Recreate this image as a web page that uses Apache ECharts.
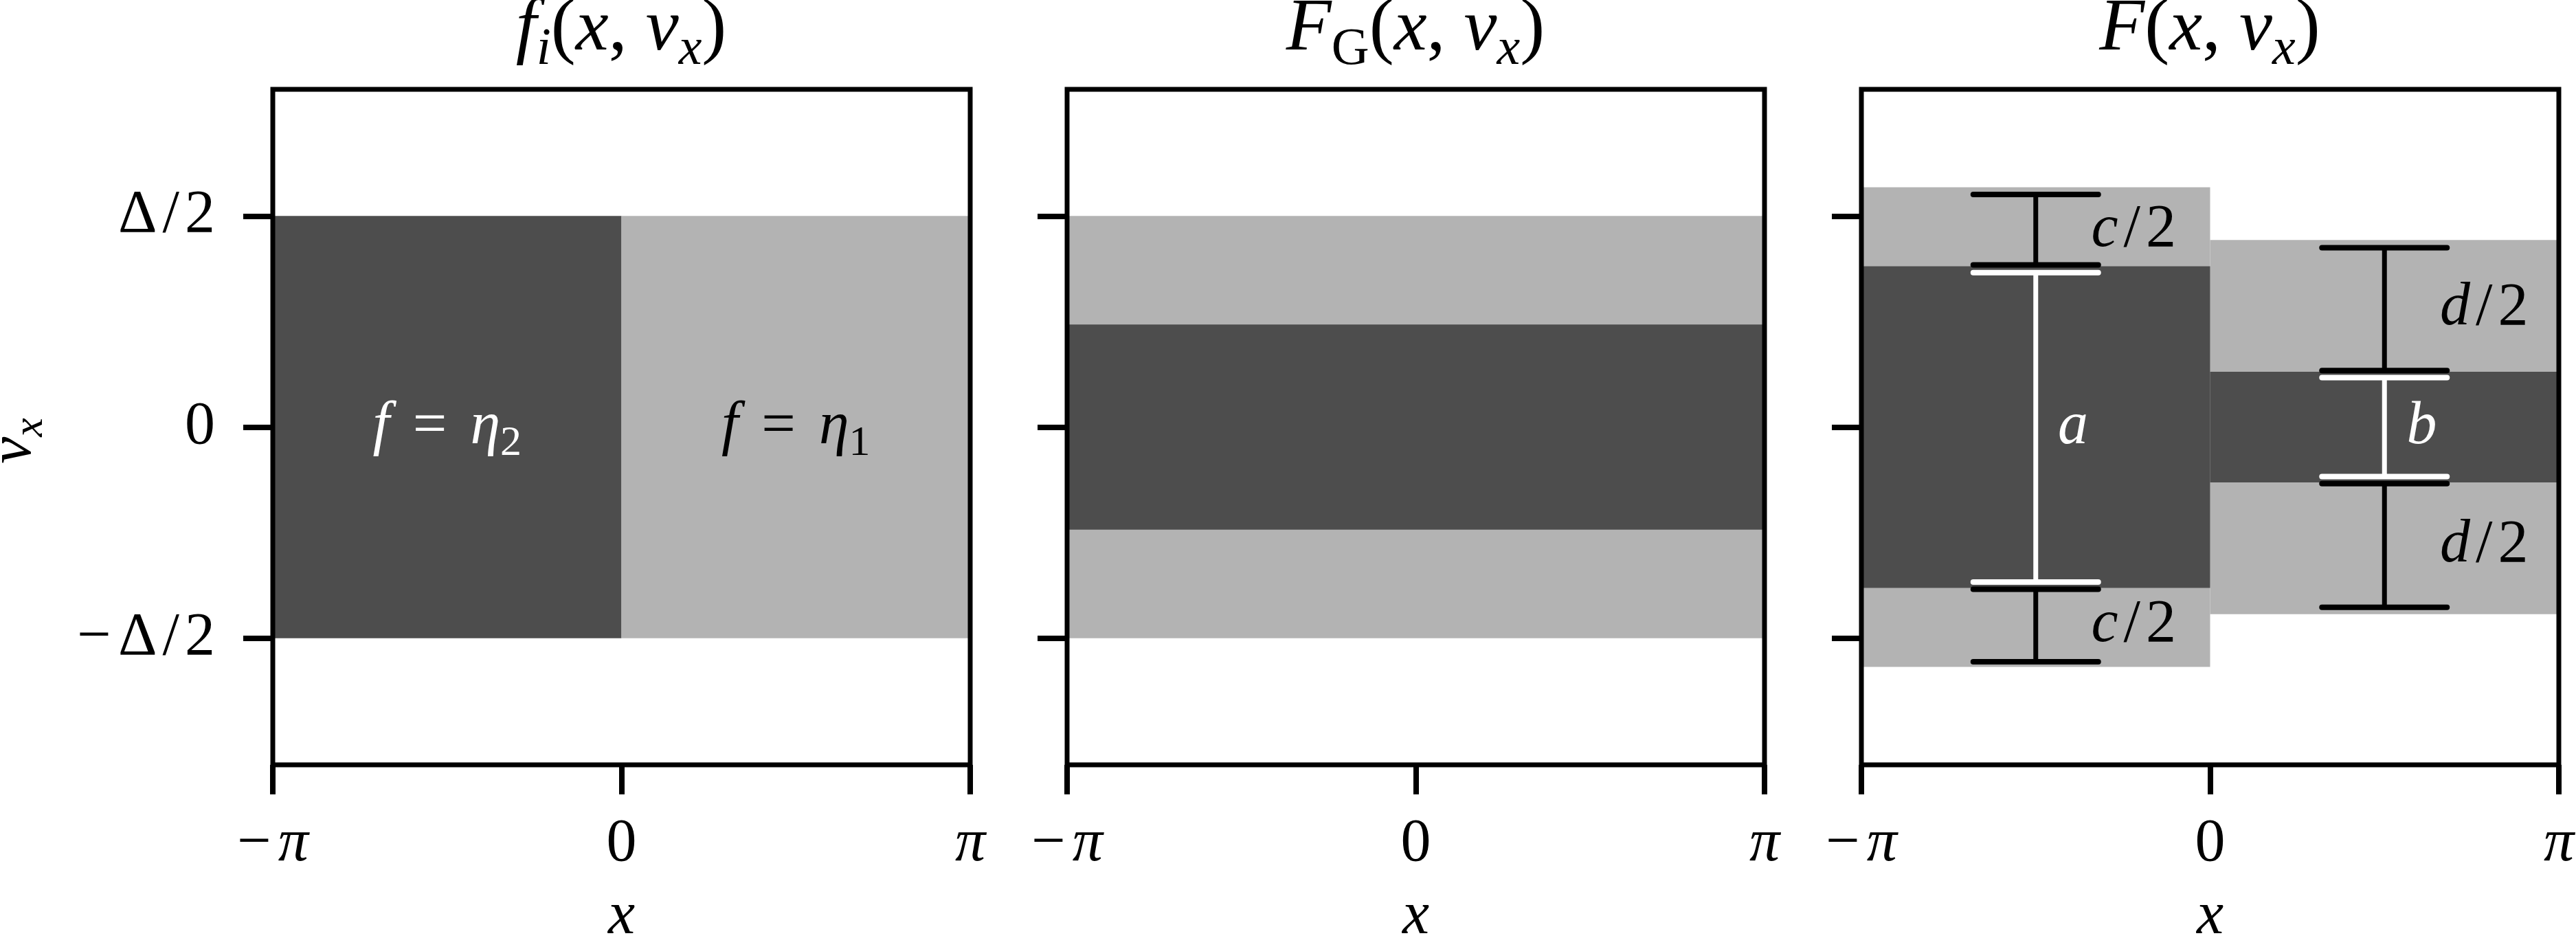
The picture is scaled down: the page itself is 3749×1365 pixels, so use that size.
<!DOCTYPE html>
<html>
<head>
<meta charset="utf-8">
<script src="https://cdn.jsdelivr.net/npm/echarts@6/dist/echarts.min.js"></script>
<style>html,body{margin:0;padding:0;background:#fff}#c{width:3749px;height:1365px}</style>
</head>
<body>
<div id="c"></div>
<script>
const PI = Math.PI;

// ---- axes ----
const xRange = [-PI, PI];
const vRange = [-0.8, 0.8];
const xTickValues = [-PI, 0, PI];
const xTickLabels = ['−π', '0', 'π'];
const vTickValues = [-0.5, 0, 0.5];
const vTickLabels = ['−Δ/2', '0', 'Δ/2'];
const panelTitles = ['f_i(x, v_x)', 'F_G(x, v_x)', 'F(x, v_x)'];
const xName = 'x';
const vName = 'v_x';

// ---- bands: [x0, x1, v0, v1] ----
const p1Dark  = [[-PI, 0, -0.5, 0.5]];
const p1Light = [[0, PI, -0.5, 0.5]];
const p2Light = [[-PI, PI, -0.5, 0.5]];
const p2Dark  = [[-PI, PI, -0.243, 0.243]];
const p3Light = [[-PI, 0, -0.568, 0.568], [0, PI, -0.443, 0.443]];
const p3Dark  = [[-PI, 0, -0.381, 0.381], [0, PI, -0.131, 0.131]];

// ---- error bars: [x, vLow, vHigh] ----
const p3BlackBars = [[-PI/2, 0.384, 0.551], [-PI/2, -0.556, -0.384], [PI/2, 0.134, 0.425], [PI/2, -0.427, -0.134]];
const p3WhiteBars = [[-PI/2, -0.367, 0.366], [PI/2, -0.117, 0.117]];

// ---- text labels: [x, v, text] ----
const p1WhiteLabels = [[-PI/2, 0, 'f = η_2']];
const p1BlackLabels = [[PI/2, 0, 'f = η_1']];
const p3WhiteLabels = [[-1.371, 0, 'a'], [1.771, 0, 'b']];
const p3BlackLabels = [[-1.071, 0.467, 'c/2'], [-1.071, -0.470, 'c/2'], [2.071, 0.281, 'd/2'], [2.071, -0.281, 'd/2']];

// ---- styling ----
const FF = 'Liberation Serif';
const DARK = '#4d4d4d', LIGHT = '#b3b3b3';
const TICK_FS = 88, TITLE_FS = 108;
const CAP = 91;

function rich(size, color) {
  const s = Math.round(size * 0.7), p = Math.round(size * 0.55);
  const base = {fontFamily: FF, color: color, fill: color, lineHeight: size, fontWeight: 'normal'};
  const k = size / 88;
  return {
    it: Object.assign({}, base, {fontSize: size, fontStyle: 'italic'}),
    rm: Object.assign({}, base, {fontSize: size, fontStyle: 'normal'}),
    op: Object.assign({}, base, {fontSize: size, fontStyle: 'normal', padding: [0, Math.round(12 * k), 0, Math.round(12 * k)]}),
    sl: Object.assign({}, base, {fontSize: size, fontStyle: 'normal', padding: [0, Math.round(8 * k), 0, Math.round(8 * k)]}),
    mi: Object.assign({}, base, {fontSize: size, fontStyle: 'normal', padding: [0, Math.round(10 * k), 0, 0]}),
    subit: Object.assign({}, base, {fontSize: s, fontStyle: 'italic', padding: [p, 0, 0, 0]}),
    subrm: Object.assign({}, base, {fontSize: s, fontStyle: 'normal', padding: [p, 0, 0, 0]})
  };
}
function toRich(str) {
  let out = '';
  for (let i = 0; i < str.length; i++) {
    let c = str[i], sub = false;
    if (c === '_') { sub = true; c = str[++i]; }
    let st;
    if (sub) st = (/[a-zα-ω]/.test(c) ? 'subit' : 'subrm');
    else if (c === '=') st = 'op';
    else if (c === '/') st = 'sl';
    else if (c === '−') st = 'mi';
    else st = /[a-zA-Zα-ω]/.test(c) ? 'it' : 'rm';
    out += '{' + st + '|' + c + '}';
  }
  return out;
}
function pick(vals, labels, v) {
  for (let i = 0; i < vals.length; i++) if (Math.abs(vals[i] - v) < 1e-6) return toRich(labels[i]);
  return '';
}

const grids = [397, 1553, 2709].map(l => ({
  left: l, top: 130, width: 1015, height: 983,
  show: true, z: 10, borderColor: '#000', borderWidth: 7, backgroundColor: 'transparent',
  outerBoundsMode: 'none', containLabel: false
}));

const xAxes = [0, 1, 2].map(i => ({
  gridIndex: i, type: 'value', min: xRange[0], max: xRange[1], position: 'bottom',
  axisLine: {show: false, onZero: false}, splitLine: {show: false},
  axisTick: {show: true, inside: false, length: 43, customValues: xTickValues, lineStyle: {color: '#000', width: 8}},
  axisLabel: {show: true, margin: 72, customValues: xTickValues, hideOverlap: false,
    formatter: v => pick(xTickValues, xTickLabels, v), rich: rich(TICK_FS, '#000')},
  name: toRich(xName), nameLocation: 'middle', nameGap: 178, nameMoveOverlap: false,
  nameTextStyle: {rich: rich(TICK_FS, '#000')}
}));

const yAxes = [0, 1, 2].map(i => ({
  gridIndex: i, type: 'value', min: vRange[0], max: vRange[1], position: 'left',
  axisLine: {show: false, onZero: false}, splitLine: {show: false},
  axisTick: {show: true, inside: false, length: 43, customValues: vTickValues, lineStyle: {color: '#000', width: 8}},
  axisLabel: {show: i === 0, margin: 84, customValues: vTickValues, hideOverlap: false,
    formatter: v => pick(vTickValues, vTickLabels, v), rich: rich(TICK_FS, '#000')},
  name: i === 0 ? toRich(vName) : '', nameLocation: 'middle', nameGap: 332, nameRotate: 90, nameMoveOverlap: false,
  nameTextStyle: {padding: [0, 40, 0, 0], rich: rich(TICK_FS, '#000')}
}));

const titles = panelTitles.map((t, i) => ({
  text: toRich(t), left: 397 + 1156 * i + 507, top: -10, textAlign: 'center', padding: 0,
  textStyle: {fontWeight: 'normal', rich: rich(TITLE_FS, '#000')}
}));

function rectSeries(idx, data, fill) {
  return {
    type: 'custom', xAxisIndex: idx, yAxisIndex: idx, silent: true, clip: false, z: 1,
    data: data,
    renderItem: function (params, api) {
      const a = api.coord([api.value(0), api.value(3)]);
      const b = api.coord([api.value(1), api.value(2)]);
      return {type: 'rect', shape: {x: a[0], y: a[1], width: b[0] - a[0], height: b[1] - a[1]}, style: {fill: fill}};
    }
  };
}
function barSeries(idx, data, color) {
  return {
    type: 'custom', xAxisIndex: idx, yAxisIndex: idx, silent: true, clip: false, z: 3,
    data: data,
    renderItem: function (params, api) {
      const lo = api.coord([api.value(0), api.value(1)]);
      const hi = api.coord([api.value(0), api.value(2)]);
      const x = lo[0];
      return {type: 'group', children: [
        {type: 'line', shape: {x1: x, y1: lo[1], x2: x, y2: hi[1]}, style: {stroke: color, lineWidth: 7}},
        {type: 'line', shape: {x1: x - CAP, y1: lo[1], x2: x + CAP, y2: lo[1]}, style: {stroke: color, lineWidth: 8, lineCap: 'round'}},
        {type: 'line', shape: {x1: x - CAP, y1: hi[1], x2: x + CAP, y2: hi[1]}, style: {stroke: color, lineWidth: 8, lineCap: 'round'}}
      ]};
    }
  };
}
function textSeries(idx, data, color, align) {
  return {
    type: 'custom', xAxisIndex: idx, yAxisIndex: idx, silent: true, clip: false, z: 5,
    data: data.map(d => [d[0], d[1]]),
    renderItem: function (params, api) {
      const p = api.coord([api.value(0), api.value(1)]);
      return {type: 'text', x: p[0], y: p[1], style: {
        text: toRich(data[params.dataIndex][2]), align: align, verticalAlign: 'middle',
        fill: color, fontFamily: FF, fontSize: TICK_FS, rich: rich(TICK_FS, color)
      }};
    }
  };
}

const option = {
  animation: false,
  backgroundColor: '#fff',
  title: titles,
  grid: grids,
  xAxis: xAxes,
  yAxis: yAxes,
  series: [
    rectSeries(0, p1Dark, DARK), rectSeries(0, p1Light, LIGHT),
    rectSeries(1, p2Light, LIGHT), rectSeries(1, p2Dark, DARK),
    rectSeries(2, p3Light, LIGHT), rectSeries(2, p3Dark, DARK),
    barSeries(2, p3BlackBars, '#000'), barSeries(2, p3WhiteBars, '#fff'),
    textSeries(0, p1WhiteLabels, '#fff', 'center'), textSeries(0, p1BlackLabels, '#000', 'center'),
    textSeries(2, p3WhiteLabels, '#fff', 'left'), textSeries(2, p3BlackLabels, '#000', 'left')
  ]
};
const chart = echarts.init(document.getElementById('c'), null, {renderer: 'canvas', width: 3749, height: 1365});
chart.setOption(option);
</script>
</body>
</html>
